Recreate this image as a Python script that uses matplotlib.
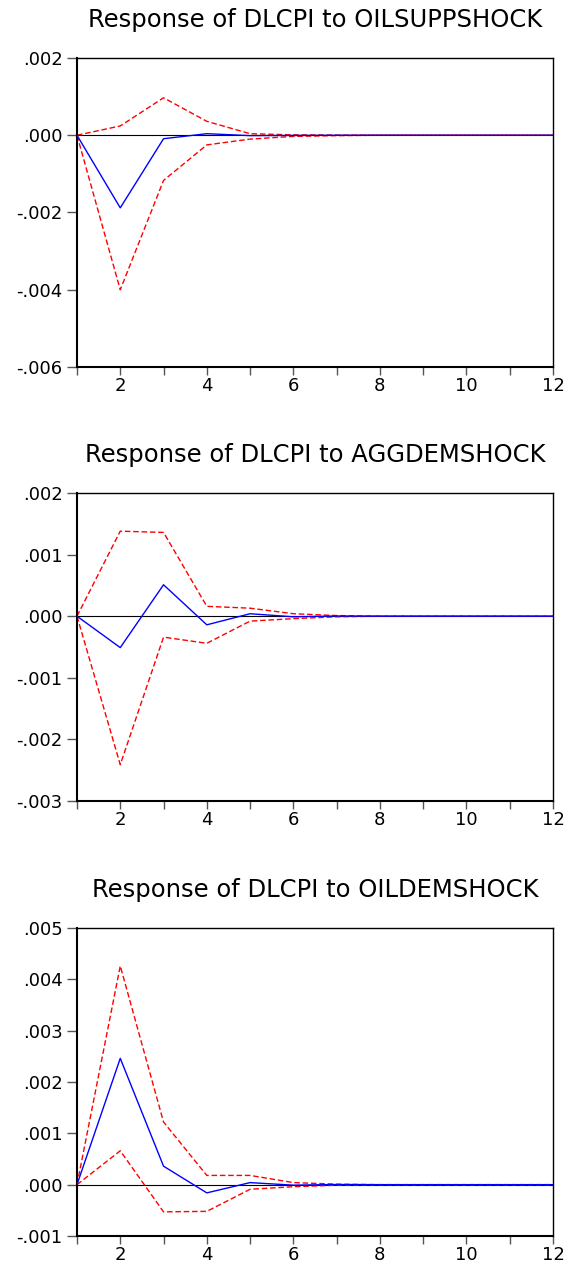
import matplotlib.pyplot as plt
import numpy as np
from matplotlib.ticker import FuncFormatter, MultipleLocator

plt.rcParams['font.family'] = ['DejaVu Sans']

periods = np.arange(1, 13)

titles = ['Response of DLCPI to OILSUPPSHOCK',
          'Response of DLCPI to AGGDEMSHOCK',
          'Response of DLCPI to OILDEMSHOCK']

# impulse responses (blue) and +/- 2 s.e. bands (red)
resp_supp = [0, -0.00188, -0.00009, 0.00004, -0.00001, -0.000005, 0, 0, 0, 0, 0, 0]
upper_supp = [0, 0.00024, 0.00097, 0.00036, 0.00004, 0.00001, 0.000003, 0, 0, 0, 0, 0]
lower_supp = [0, -0.00400, -0.00117, -0.00025, -0.00010, -0.00003, -0.00001, 0, 0, 0, 0, 0]

resp_agg = [0, -0.00051, 0.00051, -0.00014, 0.00004, -0.00001, 0.000003, 0, 0, 0, 0, 0]
upper_agg = [0, 0.00138, 0.00136, 0.00016, 0.00013, 0.00004, 0.00001, 0, 0, 0, 0, 0]
lower_agg = [0, -0.00241, -0.00034, -0.00044, -0.00008, -0.00004, -0.00001, 0, 0, 0, 0, 0]

resp_dem = [0, 0.00246, 0.00036, -0.00016, 0.00004, -0.00001, 0.000003, 0, 0, 0, 0, 0]
upper_dem = [0, 0.00426, 0.00122, 0.00018, 0.00018, 0.00004, 0.00001, 0, 0, 0, 0, 0]
lower_dem = [0, 0.00066, -0.00053, -0.00052, -0.00009, -0.00004, -0.00001, 0, 0, 0, 0, 0]

ylims = [(-0.006, 0.002), (-0.003, 0.002), (-0.001, 0.005)]
ysteps = [0.002, 0.001, 0.001]

series = [(resp_supp, upper_supp, lower_supp),
          (resp_agg, upper_agg, lower_agg),
          (resp_dem, upper_dem, lower_dem)]

# axes boxes in figure fractions
boxes = [[0.1353, 0.7101, 0.8366, 0.2441],
         [0.1353, 0.3673, 0.8366, 0.2433],
         [0.1353, 0.0237, 0.8366, 0.2433]]


def fmt(v, pos):
    s = f"{v:.3f}"
    s = s.replace("0.", ".")
    if s == "-.000":
        s = ".000"
    return s


fig = plt.figure(figsize=(5.69, 12.66), dpi=100)

for box, title, (resp, up, lo), yl, ys in zip(boxes, titles, series, ylims, ysteps):
    ax = fig.add_axes(box)
    ax.axhline(0, color='black', linewidth=0.8, zorder=1)
    ax.plot(periods, up, color='red', linestyle=(0, (4, 2)), linewidth=1.0, zorder=2)
    ax.plot(periods, lo, color='red', linestyle=(0, (4, 2)), linewidth=1.0, zorder=2)
    ax.plot(periods, resp, color='blue', linewidth=1.0, zorder=3)

    ax.set_xlim(1, 12)
    ax.set_ylim(*yl)
    ax.xaxis.set_major_locator(MultipleLocator(2))
    ax.xaxis.set_minor_locator(MultipleLocator(1))
    ax.yaxis.set_major_locator(MultipleLocator(ys))
    ax.yaxis.set_major_formatter(FuncFormatter(fmt))

    ax.tick_params(axis='y', direction='out', length=7.5, width=1, color='#555555',
                   labelsize=13, pad=3)
    ax.tick_params(axis='x', which='both', direction='out', length=5.5, width=1,
                   color='#555555', labelsize=13, pad=2)

    for sp in ax.spines.values():
        sp.set_linewidth(1.0)
        sp.set_color('black')
    ax.spines['left'].set_linewidth(1.5)
    ax.spines['bottom'].set_linewidth(1.5)

    ax.set_title(title, fontsize=17.5, pad=22)

fig.savefig('out.png', dpi=100)
plt.close(fig)
